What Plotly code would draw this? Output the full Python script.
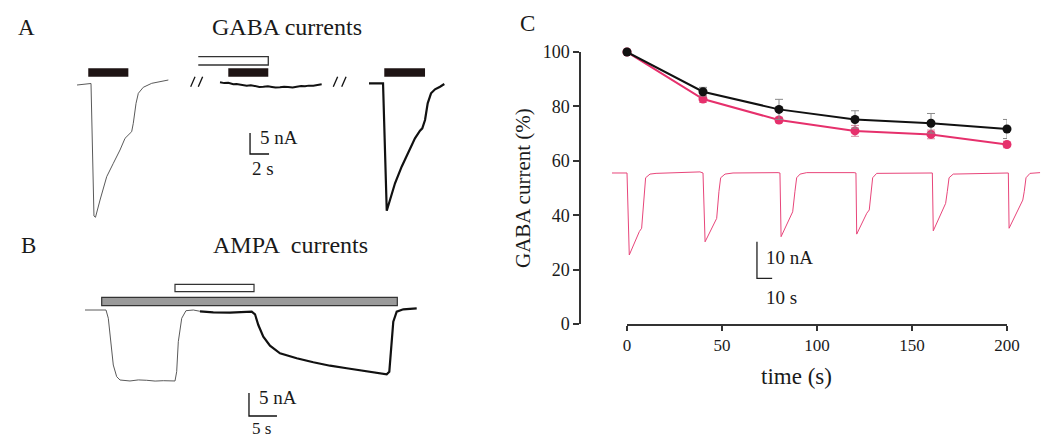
import plotly.graph_objects as go

W, H = 1046, 439
FONT = "Liberation Serif"
TXT = "#1a1a1a"
PINK = "#e6306c"
PINK_LIGHT = "#e8457a"

# ---------------- Panel A : GABA currents (time in s, current in nA) ----------------
a_ctrl_t = [8.11, 9.58, 9.89, 10.05, 10.53, 11.23, 11.93, 12.63, 13.16, 13.61, 13.86, 14.03,
            14.32, 14.56, 15.08, 15.97, 16.84, 17.72]
a_ctrl_i = [0.0, 0.36, -31.19, -31.5, -27.38, -21.83, -18.64, -15.48, -12.69, -11.67, -11.12, -9.12,
            -4.36, -1.98, -0.55, 0.40, 0.79, 1.19]

a_block_t = [23.16, 23.6, 24.03, 24.3, 24.56, 24.9, 25.26, 25.6, 25.97, 26.4, 26.84, 27.3, 27.72,
             28.2, 28.63, 29.0, 29.47, 29.9, 30.32, 30.8, 31.23, 31.7, 32.11, 32.5, 32.98, 33.4, 33.86]
a_block_i = [0.64, 0.45, 0.55, 0.30, 0.17, 0.25, 0.05, -0.10, -0.17, -0.05, -0.29, -0.45, -0.40,
             -0.30, -0.48, -0.62, -0.55, -0.40, -0.48, -0.60, -0.40, -0.25, -0.31, -0.15, -0.17, 0.05, 0.17]

a_rec_t = [38.84, 40.32, 40.71, 41.05, 41.58, 42.28, 42.98, 43.68, 44.21, 44.45, 44.74, 45.02,
           45.37, 45.79, 46.32, 46.77]
a_rec_i = [0.40, 0.40, -29.93, -27.38, -23.40, -19.45, -15.88, -12.69, -10.88, -10.31, -8.33, -4.36,
           -1.98, -1.02, -0.40, 0.24]

# GABA application bars (start, end in s)
a_gaba_on = [9.29, 24.03, 40.45]
a_gaba_off = [13.51, 28.24, 44.74]
# blocker application (open bar)
a_blk_on, a_blk_off = 20.87, 28.24
# break marks (time positions)
a_break_t = [20.07, 20.87, 35.08, 35.97]
# scale bar: 2 s, 5 nA
a_sb_t, a_sb_i, a_sb_dt, a_sb_di = 26.32, -11.43, 2.0, 5.0

# ---------------- Panel B : AMPA currents ----------------
b_ctrl_t = [15.18, 18.93, 19.34, 19.77, 20.23, 20.84, 21.43, 23.21, 24.7, 26.20, 27.7, 29.16, 31.25,
            31.55, 31.84, 32.45, 33.21, 34.52, 35.71]
b_ctrl_i = [0.0, 0.0, -1.80, -6.89, -11.96, -14.50, -15.22, -15.43, -15.2, -15.28, -15.45, -15.37, -15.43,
            -13.41, -6.89, -1.80, -0.15, 0.0, -0.28]

b_test_t = [35.71, 38.09, 41.07, 44.95, 45.54, 46.13, 47.02, 48.21, 50.0, 52.98, 55.95, 58.93, 61.91,
            64.88, 67.86, 69.05, 69.52, 69.95, 70.23, 70.84, 72.02, 74.41]
b_test_i = [-0.28, -0.50, -0.59, -0.37, -0.93, -3.26, -5.80, -7.76, -9.41, -10.50, -11.37, -12.11, -12.67,
            -13.26, -13.76, -13.98, -13.41, -6.89, -2.54, -0.37, 0.15, 0.37]

b_agonist_on, b_agonist_off = 18.16, 70.95
b_blk_on, b_blk_off = 31.25, 45.36
b_sb_t, b_sb_i, b_sb_dt, b_sb_di = 44.46, -18.04, 5.0, 5.0

# ---------------- Panel C : GABA current (%) vs time ----------------
c_time = [0, 40, 80, 120, 160, 200]
c_black = [100, 85.4, 78.9, 75.2, 73.8, 71.7]
c_black_err = [0, 1.6, 3.7, 3.2, 3.6, 3.5]
c_pink = [100, 82.7, 75.0, 71.0, 69.7, 66.0]
c_pink_err = [0, 1.2, 1.0, 2.0, 1.6, 1.2]
c_xticks = [0, 50, 100, 150, 200]
c_yticks = [0, 20, 40, 60, 80, 100]

# inset trace (time s, current nA)
ins_t = [-7.9, 0.0, 1.2, 6.5, 7.7, 9.0, 9.8, 12.1, 15.3, 38.4,
         40.0, 41.1, 46.3, 47.2, 48.4, 49.3, 51.6, 55.8, 79.5,
         80.5, 81.1, 86.2, 87.2, 88.4, 89.3, 91.1, 94.6, 119.5,
         120.5, 120.9, 126.2, 127.5, 128.4, 129.3, 131.4, 159.5,
         160.7, 161.2, 166.5, 167.7, 168.6, 169.5, 171.7, 199.5,
         200.7, 201.1, 206.8, 208.3, 209.1, 210.0, 212.1, 217.4]
ins_i = [0.0, 0.0, -22.4, -16.0, -15.1, -5.0, -1.3, -0.3, -0.1, 0.3,
         0.0, -18.8, -13.3, -12.4, -5.0, -1.3, -0.3, 0.0, 0.1,
         0.0, -17.4, -11.5, -10.6, -5.0, -1.3, -0.3, 0.1, 0.1,
         0.0, -16.7, -11.0, -10.1, -5.0, -1.3, -0.1, 0.1,
         0.0, -15.8, -9.6, -8.3, -5.0, -1.3, -0.3, 0.1,
         0.0, -15.1, -9.2, -7.4, -5.0, -1.3, -0.1, 0.1]
ins_sb_t, ins_sb_i, ins_sb_dt, ins_sb_di = 68.4, -18.8, 8.0, 10.0


def px(x):
    return x / W


def py(y):
    return 1 - y / H


fig = go.Figure()

# ---- Panel A traces
fig.add_trace(go.Scatter(x=a_ctrl_t, y=a_ctrl_i, mode="lines", line=dict(color="#5a5a5a", width=1),
                         xaxis="x2", yaxis="y2"))
fig.add_trace(go.Scatter(x=a_block_t, y=a_block_i, mode="lines", line=dict(color="#111", width=2),
                         xaxis="x2", yaxis="y2"))
fig.add_trace(go.Scatter(x=a_rec_t, y=a_rec_i, mode="lines", line=dict(color="#111", width=2.2),
                         xaxis="x2", yaxis="y2"))
bx, by = [], []
for t in a_break_t:
    bx += [t, t + 0.46, None]
    by += [-0.40, 1.98, None]
fig.add_trace(go.Scatter(x=bx, y=by, mode="lines", line=dict(color="#111", width=1.3),
                         xaxis="x2", yaxis="y2"))
fig.add_trace(go.Scatter(x=[a_blk_on, a_blk_off, a_blk_off, a_blk_on], y=[6.74, 6.74, 4.76, 4.76],
                         mode="lines", line=dict(color="#333", width=1.3), xaxis="x2", yaxis="y2"))
fig.add_trace(go.Scatter(x=[a_sb_t, a_sb_t, a_sb_t + a_sb_dt],
                         y=[a_sb_i, a_sb_i - a_sb_di, a_sb_i - a_sb_di],
                         mode="lines", line=dict(color="#111", width=1.3), xaxis="x2", yaxis="y2"))

# ---- Panel B traces
fig.add_trace(go.Scatter(x=b_ctrl_t, y=b_ctrl_i, mode="lines", line=dict(color="#5a5a5a", width=1),
                         xaxis="x3", yaxis="y3"))
fig.add_trace(go.Scatter(x=b_test_t, y=b_test_i, mode="lines", line=dict(color="#111", width=2.2),
                         xaxis="x3", yaxis="y3"))
fig.add_trace(go.Scatter(x=[b_sb_t, b_sb_t, b_sb_t + b_sb_dt],
                         y=[b_sb_i, b_sb_i - b_sb_di, b_sb_i - b_sb_di],
                         mode="lines", line=dict(color="#111", width=1.3), xaxis="x3", yaxis="y3"))

# ---- Panel C inset
fig.add_trace(go.Scatter(x=ins_t, y=ins_i, mode="lines", line=dict(color=PINK_LIGHT, width=1),
                         xaxis="x4", yaxis="y4"))
fig.add_trace(go.Scatter(x=[ins_sb_t, ins_sb_t, ins_sb_t + ins_sb_dt],
                         y=[ins_sb_i, ins_sb_i - ins_sb_di, ins_sb_i - ins_sb_di],
                         mode="lines", line=dict(color="#222", width=1.3), xaxis="x4", yaxis="y4"))

# ---- Panel C data
fig.add_trace(go.Scatter(x=c_time, y=c_pink, mode="lines+markers", cliponaxis=False,
                         line=dict(color=PINK, width=2), marker=dict(color=PINK, size=9),
                         error_y=dict(type="data", array=c_pink_err, color="#d88aa0", thickness=1, width=4)))
fig.add_trace(go.Scatter(x=c_time, y=c_black, mode="lines+markers", cliponaxis=False,
                         line=dict(color="#111", width=2), marker=dict(color="#111", size=9),
                         error_y=dict(type="data", array=c_black_err, color="#8a8a8a", thickness=1, width=4)))

shapes = []
for t0, t1 in zip(a_gaba_on, a_gaba_off):
    shapes.append(dict(type="rect", xref="x2", yref="y2", x0=t0, x1=t1, y0=1.98, y1=3.98,
                       fillcolor="#1e1414", line=dict(width=0)))
shapes.append(dict(type="rect", xref="x3", yref="y3", x0=b_agonist_on, x1=b_agonist_off, y0=0.93, y1=2.76,
                   fillcolor="#9a9a9a", line=dict(color="#333", width=1.2)))
shapes.append(dict(type="rect", xref="x3", yref="y3", x0=b_blk_on, x1=b_blk_off, y0=3.98, y1=5.59,
                   fillcolor="white", line=dict(color="#333", width=1.2)))


def ann(text, x, y, size, xanchor="center"):
    return dict(text=text, x=px(x), y=py(y), xref="paper", yref="paper", showarrow=False,
                xanchor=xanchor, yanchor="middle", font=dict(family=FONT, size=size, color=TXT))


annotations = [
    ann("A", 26, 27, 23),
    ann("GABA currents", 287, 27, 24),
    ann("5 nA", 258, 137, 19, "left"),
    ann("2 s", 250, 168, 19, "left"),
    ann("B", 28, 245, 23),
    ann("AMPA  currents", 290, 245, 24),
    ann("5 nA", 257, 397, 19, "left"),
    ann("5 s", 250, 428.5, 17, "left"),
    ann("C", 527, 24, 23),
    ann("10 nA", 764, 257, 19, "left"),
    ann("10 s", 764, 297, 19, "left"),
    ann("time (s)", 796, 376, 23),
    dict(text="GABA current (%)", x=px(523), y=py(188), xref="paper", yref="paper", showarrow=False,
         textangle=-90, xanchor="center", yanchor="middle", font=dict(family=FONT, size=21, color=TXT)),
]

hidden = dict(visible=False, showgrid=False, zeroline=False, fixedrange=True)
axis_style = dict(showline=True, linecolor="#333", linewidth=1.5, ticks="outside", tickcolor="#333",
                  tickwidth=1.5, showgrid=False, zeroline=False, automargin=False,
                  tickfont=dict(family=FONT, size=17, color=TXT))

fig.update_layout(
    width=W, height=H, margin=dict(l=0, r=0, t=0, b=0, pad=0, autoexpand=False),
    paper_bgcolor="white", plot_bgcolor="rgba(0,0,0,0)", showlegend=False,
    shapes=shapes, annotations=annotations,
    xaxis=dict(domain=[px(627), px(1007)], range=[0, 200], anchor="y", tickvals=c_xticks, ticklen=5,
               **axis_style),
    yaxis=dict(domain=[py(324), py(52)], range=[0, 100], anchor="free", position=px(580),
               tickvals=c_yticks, ticklen=6, **{**axis_style, "tickfont": dict(family=FONT, size=18, color=TXT)}),
    xaxis2=dict(domain=[0, px(500)], range=[0, 500 / 9.5], anchor="y2", **hidden),
    yaxis2=dict(domain=[py(235), 1], range=[(85 - 235) / 4.2, 85 / 4.2], anchor="x2", **hidden),
    xaxis3=dict(domain=[0, px(500)], range=[0, 500 / 5.6], anchor="y3", **hidden),
    yaxis3=dict(domain=[0, py(235)], range=[(310 - 439) / 4.6, (310 - 235) / 4.6], anchor="x3", **hidden),
    xaxis4=dict(domain=[px(600), 1], range=[(600 - 627) / 1.9, (1046 - 627) / 1.9], anchor="y4", **hidden),
    yaxis4=dict(domain=[py(324), py(52)], range=[-41.26, 33.06], anchor="x4", **hidden),
)

fig.write_html("out.html", config={"displayModeBar": False},
               post_script="document.body.style.margin='0';document.body.style.overflow='hidden';")
